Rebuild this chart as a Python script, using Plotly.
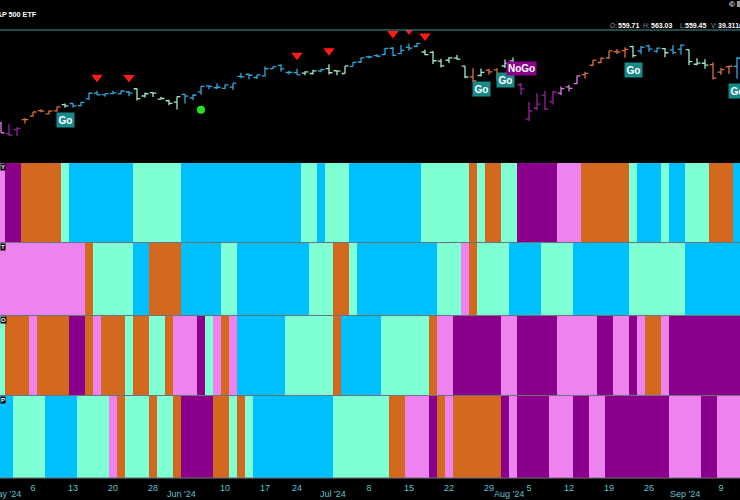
import plotly.graph_objects as go

# ---------------- DATA ----------------
# trading-day index 0..94  (Apr 30 2024 .. Sep 13 2024)
opens = [508.56, 501.38, 504.15, 511.16, 513.75, 517.56, 515.26, 517.38, 521.81, 522.56,
         521.11, 525.83, 529.88, 528.81, 529.57, 529.28, 530.65, 532.96, 527.85, 530.27,
         525.68, 524.52, 523.59, 529.02, 526.46, 530.77, 534.98, 533.66, 533.18, 534.07,
         541.63, 543.15, 540.88, 542.08, 547.16, 549.44, 544.40, 544.33, 543.99, 543.69,
         545.37, 547.16, 545.63, 543.70, 548.69, 551.77, 555.44, 556.26, 557.07, 561.44,
         557.63, 562.03, 562.87, 558.80, 558.51, 552.42, 553.00, 554.54, 548.86, 541.35,
         542.28, 546.02, 546.26, 548.98, 552.57, 535.75, 511.64, 519.22, 528.47, 523.91,
         529.81, 534.21, 536.53, 542.85, 549.50, 551.42, 554.73, 559.15, 559.77, 562.56,
         559.53, 563.18, 559.49, 561.21, 560.31, 560.77, 560.47, 550.20, 550.89, 549.94,
         544.65, 548.36, 548.70, 555.01, 559.71]
highs = [509.56, 508.19, 505.89, 512.55, 516.61, 518.57, 517.74, 520.21, 522.64, 522.67,
         523.83, 530.08, 531.52, 529.52, 531.56, 531.52, 531.38, 533.07, 530.27, 530.51,
         527.31, 525.20, 527.50, 529.31, 529.15, 534.69, 535.42, 536.89, 535.99, 537.01,
         544.12, 543.33, 542.81, 548.53, 548.62, 550.28, 545.65, 546.95, 545.20, 546.24,
         546.96, 550.28, 545.88, 549.01, 551.83, 555.05, 556.25, 557.18, 561.67, 562.33,
         563.67, 564.84, 565.16, 560.51, 559.52, 554.08, 555.27, 556.74, 549.17, 547.46,
         547.19, 547.05, 547.34, 553.50, 554.87, 536.99, 523.58, 529.75, 531.59, 531.29,
         534.51, 535.73, 542.28, 544.96, 553.36, 555.02, 559.61, 560.84, 562.11, 563.18,
         563.09, 563.91, 562.06, 561.65, 563.68, 564.20, 560.81, 554.43, 553.80, 551.60,
         547.71, 549.15, 555.36, 559.40, 563.03]
lows = [501.98, 499.87, 499.55, 508.56, 513.30, 516.45, 515.14, 516.71, 519.59, 519.74,
        520.56, 525.18, 528.54, 527.32, 529.17, 529.07, 527.60, 524.72, 526.88, 527.11,
        525.37, 521.33, 518.36, 522.60, 524.96, 528.73, 532.68, 532.54, 532.57, 532.05,
        540.30, 539.59, 539.85, 541.61, 546.73, 545.12, 543.02, 542.62, 542.44, 543.03,
        544.61, 542.95, 542.52, 543.65, 548.65, 551.12, 554.19, 555.52, 556.77, 555.83,
        557.15, 559.63, 562.10, 556.61, 550.43, 547.91, 551.02, 553.28, 540.29, 537.45,
        541.49, 542.72, 538.52, 547.58, 539.43, 528.60, 510.27, 517.87, 518.05, 521.84,
        528.56, 530.95, 536.28, 540.12, 548.88, 551.26, 553.86, 557.33, 554.73, 554.98,
        557.29, 559.05, 558.32, 555.04, 557.18, 557.14, 549.51, 549.46, 547.10, 539.44,
        542.68, 543.38, 539.96, 552.74, 559.45]
closes = [501.98, 500.35, 505.03, 511.29, 516.57, 517.14, 517.19, 520.17, 520.84, 520.91,
          523.30, 529.78, 528.69, 529.45, 530.06, 531.36, 529.83, 525.96, 529.44, 529.81,
          526.10, 522.61, 527.37, 527.80, 528.39, 534.67, 534.66, 534.01, 535.66, 536.95,
          541.36, 542.45, 542.78, 547.10, 548.49, 547.00, 544.51, 542.74, 544.83, 545.51,
          546.37, 544.22, 545.34, 549.01, 551.46, 554.64, 555.28, 555.82, 561.32, 556.48,
          559.99, 561.53, 564.86, 556.94, 552.66, 548.99, 554.65, 553.78, 541.23, 538.41,
          544.44, 544.76, 542.00, 550.81, 543.01, 532.90, 517.38, 522.15, 518.66, 530.65,
          532.99, 533.27, 542.04, 543.75, 553.07, 554.31, 559.61, 558.70, 560.62, 556.22,
          562.13, 560.79, 561.56, 558.30, 558.35, 563.68, 552.08, 550.95, 549.61, 540.36,
          546.41, 548.79, 554.42, 559.09, 562.01]

# trend colour runs (code, number of days)  P=purple V=violet O=amber A=aqua B=blue
trend_runs_1 = [("V", 1), ("P", 2), ("O", 5), ("A", 1), ("B", 8), ("A", 6), ("B", 15), ("A", 2),
                ("B", 1), ("A", 3), ("B", 9), ("A", 6), ("O", 1), ("A", 1), ("O", 2), ("A", 2),
                ("P", 5), ("V", 3), ("O", 6), ("A", 1), ("B", 3), ("A", 1), ("B", 2), ("A", 3),
                ("O", 3), ("B", 3)]
trend_runs_2 = [("V", 11), ("O", 1), ("A", 5), ("B", 2), ("O", 4), ("B", 5), ("A", 2), ("B", 9),
                ("A", 3), ("O", 2), ("A", 1), ("B", 10), ("A", 3), ("V", 1), ("O", 1), ("A", 4),
                ("B", 4), ("A", 4), ("B", 7), ("A", 7), ("B", 9)]
trend_runs_3 = [("A", 1), ("O", 3), ("V", 1), ("O", 4), ("P", 2), ("O", 1), ("V", 1), ("O", 3),
                ("A", 1), ("O", 2), ("A", 2), ("O", 1), ("V", 3), ("P", 1), ("A", 1), ("V", 1),
                ("O", 1), ("V", 1), ("B", 6), ("A", 6), ("O", 1), ("B", 5), ("A", 6), ("O", 1),
                ("V", 2), ("P", 6), ("V", 2), ("P", 5), ("V", 5), ("P", 2), ("V", 2), ("P", 1),
                ("V", 1), ("O", 2), ("V", 1), ("P", 11)]
trend_runs_4 = [("B", 2), ("A", 4), ("B", 4), ("A", 4), ("V", 1), ("O", 1), ("A", 3), ("O", 1),
                ("A", 2), ("O", 1), ("P", 4), ("O", 2), ("A", 1), ("O", 1), ("A", 1), ("B", 10),
                ("A", 7), ("O", 2), ("V", 3), ("P", 1), ("O", 1), ("V", 1), ("O", 6), ("P", 1),
                ("V", 1), ("P", 4), ("V", 3), ("P", 2), ("V", 2), ("P", 8), ("V", 4), ("P", 2),
                ("V", 5)]
panel_labels = ["Y", "T", "O", "P"]

sell_signal_days = [12, 16, 37, 41, 49, 51, 53]   # red triangles
buy_dot_days = [25]                                # green dot
go_label_days = [8, 60, 63, 79, 92]
nogo_label_days = [65]

tick_days = [4, 9, 14, 19, 28, 33, 37, 46, 51, 56, 61, 66, 71, 76, 81, 90]
tick_text = ["6", "13", "20", "28", "10", "17", "24", "8", "15", "22", "29", "5", "12", "19", "26", "9"]
month_days = [1, 23, 42, 64, 86]
month_text = ["May '24", "Jun '24", "Jul '24", "Aug '24", "Sep '24"]

quote_labels = ["O:", "H:", "L:", "V:"]
quote_values = ["559.71", "563.03", "559.45", "39.311m"]

# ---------------- STYLE ----------------
COL = {"P": "#8B008B", "V": "#EE82EE", "O": "#D2691E", "A": "#7FFFD4", "B": "#00BFFF"}
BAR_COL = {"P": "#9a1fa0", "V": "#e07ae0", "O": "#dc7038", "A": "#9fe8c8", "B": "#2fa8e0"}
CODE = {"P": 0, "V": 1, "O": 2, "A": 3, "B": 4}
W, H = 740, 500
FONT = "Liberation Sans, Arial"


def expand(runs):
    out = []
    for c, n in runs:
        out += [c] * n
    return out


def py(px):
    return 1 - px / H


n = len(closes)
days = list(range(n))
trend1 = expand(trend_runs_1)
panels = [trend1, expand(trend_runs_2), expand(trend_runs_3), expand(trend_runs_4)]

fig = go.Figure()

# price bars coloured by trend
for c in ["B", "A", "O", "V", "P"]:
    idx = [i for i in days if trend1[i] == c]
    fig.add_trace(go.Ohlc(
        x=idx, open=[opens[i] for i in idx], high=[highs[i] for i in idx],
        low=[lows[i] for i in idx], close=[closes[i] for i in idx],
        increasing=dict(line=dict(color=BAR_COL[c], width=1.3)),
        decreasing=dict(line=dict(color=BAR_COL[c], width=1.3)),
        tickwidth=0.42, hoverinfo="skip", showlegend=False, xaxis="x", yaxis="y"))

fig.add_trace(go.Scatter(
    x=sell_signal_days, y=[highs[i] + 9.5 for i in sell_signal_days], mode="markers",
    marker=dict(symbol="triangle-down", size=10, color="#ff1a1a"),
    hoverinfo="skip", showlegend=False, xaxis="x", yaxis="y", cliponaxis=True))
fig.add_trace(go.Scatter(
    x=buy_dot_days, y=[lows[i] - 10.5 for i in buy_dot_days], mode="markers",
    marker=dict(symbol="circle", size=8, color="#22e622"),
    hoverinfo="skip", showlegend=False, xaxis="x", yaxis="y"))

# trend panels
cs = [[0, COL["P"]], [0.2, COL["P"]], [0.2, COL["V"]], [0.4, COL["V"]], [0.4, COL["O"]],
      [0.6, COL["O"]], [0.6, COL["A"]], [0.8, COL["A"]], [0.8, COL["B"]], [1, COL["B"]]]
for k, tr in enumerate(panels):
    fig.add_trace(go.Heatmap(
        z=[[CODE[c] for c in tr]], x=days, y=[0], zmin=-0.5, zmax=4.5,
        colorscale=cs, showscale=False, hoverinfo="skip",
        xaxis="x%d" % (k + 2), yaxis="y%d" % (k + 2)))

XR = [-0.125, 92.375]
hidden_x = dict(range=XR, showgrid=False, zeroline=False, showticklabels=False,
                ticks="", showline=False, fixedrange=True)
layout = dict(
    width=W, height=H, margin=dict(l=0, r=0, t=0, b=0),
    paper_bgcolor="black", plot_bgcolor="black", showlegend=False,
    xaxis=dict(hidden_x, domain=[0, 1], anchor="y", rangeslider=dict(visible=False)),
    yaxis=dict(domain=[py(161), py(30)], range=[482.1, 574.3], visible=False, fixedrange=True),
)
doms = [(163, 242), (243, 315), (316, 395), (396, 478)]
for k, (t, b) in enumerate(doms):
    a = k + 2
    xa = dict(hidden_x, domain=[0, 1], anchor="y%d" % a, matches="x")
    if a == 5:
        xa.update(showticklabels=True, tickmode="array", tickvals=tick_days, ticktext=tick_text,
                  tickfont=dict(size=9, color="#5ec3cc", family=FONT),
                  ticklabelstandoff=3)
    layout["xaxis%d" % a] = xa
    layout["yaxis%d" % a] = dict(domain=[py(b), py(t)], range=[-0.5, 0.5], visible=False,
                                 fixedrange=True)
fig.update_layout(**layout)

shapes = [dict(type="line", xref="paper", yref="paper", x0=0, x1=1, y0=py(30), y1=py(30),
               line=dict(color="#3f9595", width=1)),
          dict(type="rect", xref="paper", yref="paper", x0=737 / W, x1=1, y0=py(7), y1=py(1),
               line=dict(width=0), fillcolor="#9a9a9a")]
for ypx in [242.5, 315.5, 395.5, 478]:
    shapes.append(dict(type="line", xref="paper", yref="paper", x0=0, x1=1, y0=py(ypx),
                       y1=py(ypx), line=dict(color="#6a7480", width=1)))
fig.update_layout(shapes=shapes)

ann = []
for i in go_label_days:
    ann.append(dict(x=i, y=lows[i] - 8.7, xref="x", yref="y", text="<b>Go</b>", showarrow=False,
                    font=dict(size=10, color="white", family=FONT),
                    bgcolor="#178a8a", borderpad=1.5))
for i in nogo_label_days:
    ann.append(dict(x=i, y=highs[i] + 10, xref="x", yref="y", text="<b>NoGo</b>", showarrow=False,
                    font=dict(size=10, color="white", family=FONT),
                    bgcolor="#8B008B", borderpad=1))
for d, t in zip(month_days, month_text):
    ann.append(dict(x=d - 0.5, y=py(494), xref="x5", yref="paper", text=t, showarrow=False,
                    font=dict(size=9, color="#5ec3cc", family=FONT),
                    yanchor="middle"))
ann.append(dict(x=39 / W, y=py(14), xref="paper", yref="paper", text="<b>SPDR S&P 500 ETF</b>",
                showarrow=False, xanchor="right", yanchor="middle",
                font=dict(size=7.2, color="white", family=FONT)))
label_px = [608, 641, 678, 709]
value_px = [616, 649, 683, 716]
for lab, v, lx, vx in zip(quote_labels, quote_values, label_px, value_px):
    ann.append(dict(x=lx / W, y=py(25), xref="paper", yref="paper", xanchor="left",
                    yanchor="middle", showarrow=False, text=lab,
                    font=dict(size=6.5, color="#9a9a9a", family=FONT)))
    ann.append(dict(x=vx / W, y=py(25), xref="paper", yref="paper", xanchor="left",
                    yanchor="middle", showarrow=False, text="<b>%s</b>" % v,
                    font=dict(size=7, color="white", family=FONT)))
ann.append(dict(x=732 / W, y=py(4), xref="paper", yref="paper", text="<b>©</b>", showarrow=False,
                xanchor="center", yanchor="middle",
                font=dict(size=8, color="white", family=FONT)))
for lab, (t, b) in zip(panel_labels, doms):
    ann.append(dict(x=0, y=py(t + 4), xref="paper", yref="paper", text="<b>%s</b>" % lab,
                    showarrow=False, xanchor="left", yanchor="middle", bgcolor="black",
                    font=dict(size=6, color="white", family=FONT),
                    borderpad=0))
fig.update_layout(annotations=ann)

fig.write_html("out.html", config={"displayModeBar": False, "staticPlot": True},
               post_script="document.body.style.margin='0';document.body.style.background='black';")
